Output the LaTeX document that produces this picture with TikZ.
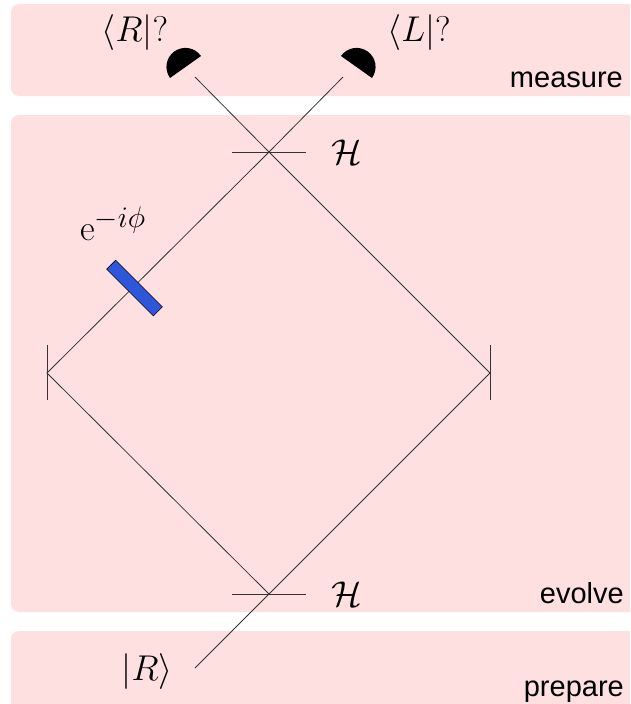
\documentclass[tikz,border=0pt]{standalone}
\usepackage{amsmath}
\usepackage{amssymb}
\usepackage{fontspec}
\setsansfont{Liberation Sans}
\usetikzlibrary{positioning, calc}
\definecolor{panelpink}{RGB}{255,224,225}
\definecolor{plateblue}{RGB}{46,87,219}
\tikzset{
    panel/.style={fill=panelpink, rounded corners=8pt},
    stagelabel/.style={font=\sffamily\fontsize{29}{32}\selectfont, anchor=base east, inner sep=0pt},
    mathlabel/.style={font=\fontsize{25}{28}\selectfont, inner sep=0pt, scale=1.44},
    beam/.style={draw=black!80, line width=0.8pt},
    mirror/.style={draw=black!80, line width=0.8pt}
}
\begin{document}
\begin{tikzpicture}[x=1pt, y=-1pt]
    \useasboundingbox (0,0) rectangle (630,704);
    % background
    \begin{scope}
        \clip (0,0) rectangle (630,704);
        \fill[panel] (11,4) rectangle (660,96);
        \fill[panel] (11,115) rectangle (660,612);
        \fill[panel] (11,631) rectangle (660,730);
    \end{scope}
    \node[stagelabel] (measure) at (623,87) {measure};
    \node[stagelabel] (evolve) at (624,603) {evolve};
    \node[stagelabel] (prepare) at (624,696) {prepare};
    % optical elements
    \coordinate (bstop) at (269,152);
    \coordinate (bsbot) at (269,594);
    \coordinate (mleft) at (47,373);
    \coordinate (mright) at (490,373);
    \coordinate (source) at (195,668);
    \coordinate (detRend) at (195,77);
    \coordinate (detLend) at (343,77);
    \draw[beam] (source) -- (bsbot) -- (mright) -- (bstop) -- (detRend);
    \draw[beam] (bsbot) -- (mleft) -- (bstop) -- (detLend);
    \draw[mirror] (232,152) -- (306,152);
    \draw[mirror] (232,594) -- (306,594);
    \draw[mirror] (47,345) -- (47,400);
    \draw[mirror] (490,345) -- (490,400);
    % phase plate
    \node[draw=black, fill=plateblue, line width=0.6pt, minimum width=66pt, minimum height=12.7pt, inner sep=0pt, rotate=-45] (plate) at (134.5,288) {};
    % detectors
    \fill (170,78) -- (201,56) arc[start angle=35, end angle=215, radius=19pt] -- cycle;
    \fill (372,78) -- (341,56) arc[start angle=145, end angle=-35, radius=19pt] -- cycle;
    % labels
    \node[mathlabel] (detR) at (135,33) {$\langle R|?$};
    \node[mathlabel] (detL) at (419,33) {$\langle L|?$};
    \node[mathlabel] (hadtop) at (347,152) {$\mathcal{H}$};
    \node[mathlabel] (hadbot) at (347,594) {$\mathcal{H}$};
    \node[mathlabel] (phase) at (113,224) {$\mathrm{e}^{\scalebox{1.2}{$\scriptstyle -i\phi$}}$};
    \node[mathlabel] (ket) at (147,672) {$|R\rangle$};
\end{tikzpicture}
\end{document}
